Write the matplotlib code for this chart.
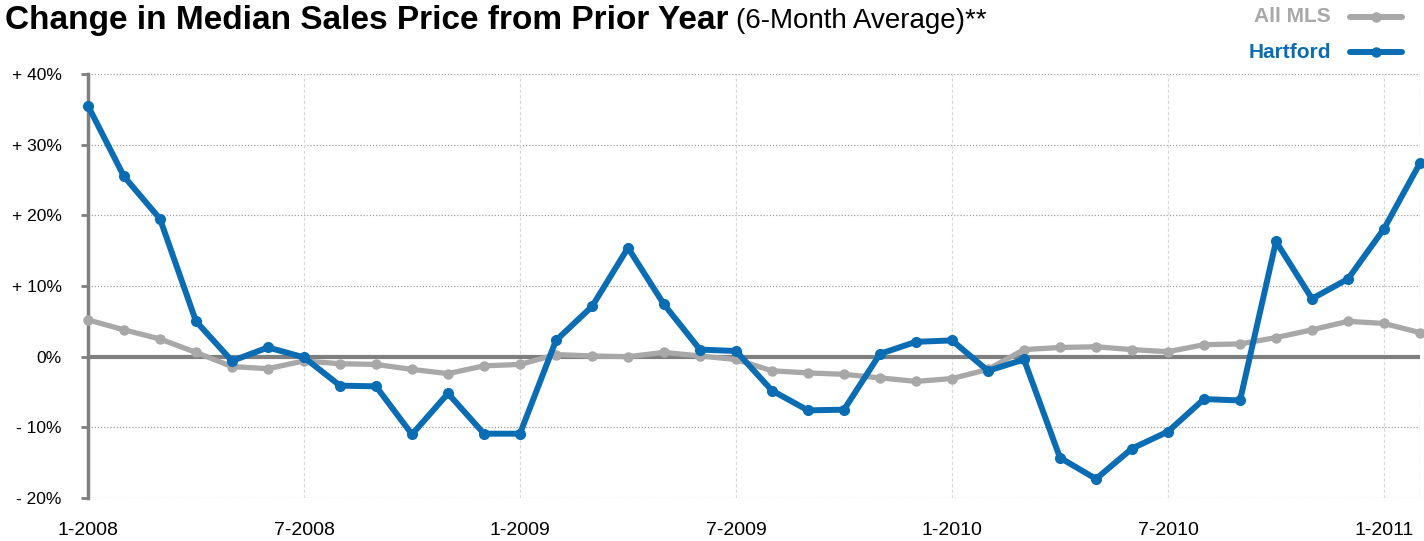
import numpy as np
import matplotlib.pyplot as plt
from matplotlib.lines import Line2D

# monthly points, 1-2008 .. 2-2011
months = np.arange(38)
tick_pos = [0, 6, 12, 18, 24, 30, 36]
tick_labels = ["1-2008", "7-2008", "1-2009", "7-2009", "1-2010", "7-2010", "1-2011"]

hartford = [35.5, 25.5, 19.5, 5.0, -0.6, 1.3, -0.1, -4.1, -4.2, -11.0,
            -5.2, -10.9, -10.9, 2.3, 7.1, 15.4, 7.4, 1.0, 0.8, -4.8,
            -7.6, -7.5, 0.4, 2.1, 2.3, -2.0, -0.4, -14.3, -17.3, -13.0,
            -10.6, -6.0, -6.2, 16.3, 8.2, 11.0, 18.1, 27.4]
all_mls = [5.2, 3.8, 2.5, 0.6, -1.4, -1.7, -0.6, -1.0, -1.1, -1.8,
           -2.4, -1.3, -1.1, 0.3, 0.1, 0.0, 0.6, 0.1, -0.4, -2.0,
           -2.3, -2.5, -3.0, -3.5, -3.1, -1.8, 1.0, 1.3, 1.4, 1.0,
           0.7, 1.7, 1.8, 2.7, 3.8, 5.0, 4.7, 3.4]

y_ticks = [40, 30, 20, 10, 0, -10, -20]
y_labels = ["+ 40%", "+ 30%", "+ 20%", "+ 10%", "0%", "- 10%", "- 20%"]

BLUE = "#0a6db3"
GRAY = "#a8a8a8"
DARK = "#7f7f7f"

plt.rcParams["font.family"] = ["Liberation Sans", "DejaVu Sans"]

fig = plt.figure(figsize=(14.24, 5.41), dpi=100)
ax = fig.add_axes([88 / 1424, 43 / 541, 1332 / 1424, 424 / 541])

ax.set_xlim(0, 37)
ax.set_ylim(-20, 40)

# grid
for yv in y_ticks:
    if yv != 0:
        ax.axhline(yv, color="#a0a0a0", lw=0.9, ls=(0, (1, 1.5)), zorder=1)
for xv in tick_pos[1:]:
    ax.axvline(xv, color="#d8d8d8", lw=0.8, ls=(0, (3, 2)), zorder=1)
ax.axvline(37, color="#a0a0a0", lw=0.9, ls=(0, (1, 1.5)), zorder=1)
ax.axhline(0, color=DARK, lw=3.0, zorder=2)

ax.plot(months, all_mls, color=GRAY, lw=3.8, marker="o", ms=6.5,
        solid_joinstyle="round", zorder=3, clip_on=False)
ax.plot(months, hartford, color=BLUE, lw=4.3, marker="o", ms=7,
        solid_joinstyle="round", zorder=4, clip_on=False)

for s in ["top", "right", "bottom"]:
    ax.spines[s].set_visible(False)
ax.spines["left"].set_color(DARK)
ax.spines["left"].set_linewidth(2.5)

ax.set_yticks(y_ticks)
ax.set_yticklabels(y_labels, fontsize=12.5)
ax.tick_params(axis="y", length=5, width=2, color=DARK, pad=14)
ax.set_xticks(tick_pos)
ax.set_xticklabels(tick_labels, fontsize=14)
ax.tick_params(axis="x", length=0, pad=17)

# title
t1 = fig.text(5 / 1424, 1 - 20 / 541, "Change in Median Sales Price from Prior Year",
              fontsize=24, fontweight="bold", va="center", ha="left")
fig.canvas.draw()
bb = t1.get_window_extent()
fig.text(bb.x1 / 1424 + 8 / 1424, 1 - 21 / 541, "(6-Month Average)**",
         fontsize=20, va="center", ha="left")

# legend
fig.text(1331 / 1424, 1 - 17 / 541, "All MLS", color=GRAY, fontsize=15,
         fontweight="bold", ha="right", va="center")
fig.text(1331 / 1424, 1 - 52 / 541, "Hartford", color=BLUE, fontsize=15,
         fontweight="bold", ha="right", va="center")
fig.add_artist(Line2D([1350 / 1424, 1402 / 1424], [1 - 17 / 541] * 2, color=GRAY,
                      lw=4.3, solid_capstyle="round"))
fig.add_artist(Line2D([1376 / 1424], [1 - 17 / 541], color=GRAY, marker="o", ms=6.5))
fig.add_artist(Line2D([1350 / 1424, 1402 / 1424], [1 - 52 / 541] * 2, color=BLUE,
                      lw=4.3, solid_capstyle="round"))
fig.add_artist(Line2D([1376 / 1424], [1 - 52 / 541], color=BLUE, marker="o", ms=6.5))

fig.savefig("out.png", dpi=100)
